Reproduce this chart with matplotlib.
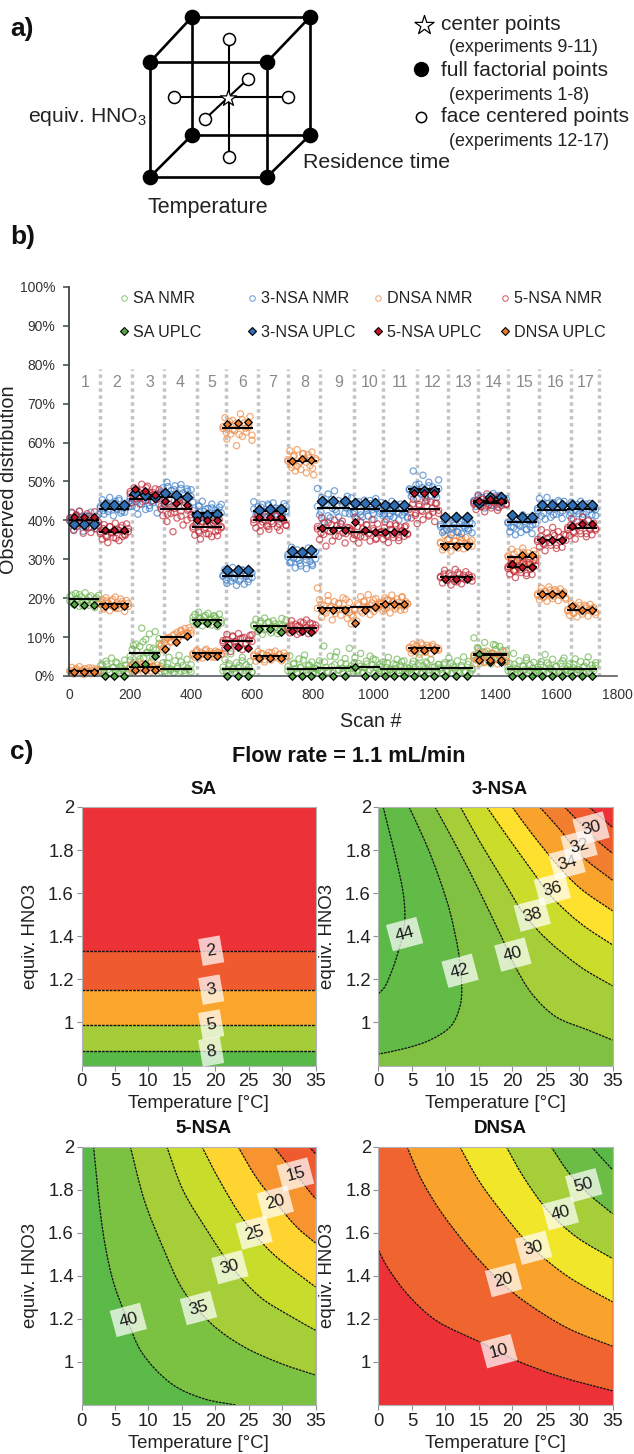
import matplotlib
matplotlib.use("Agg")
import matplotlib.pyplot as plt
from matplotlib.legend import Legend
from matplotlib.lines import Line2D
from matplotlib.patches import PathPatch
from matplotlib.path import Path
import numpy as np

plt.rcParams['font.family'] = ['Liberation Sans', 'DejaVu Sans']
plt.rcParams['mathtext.default'] = 'regular'

W, H = 634, 1454

# ---- panel a, design of experiments cube (picture pixels)
cube_front = [(150, 62), (267, 62), (267, 177), (150, 177)]
cube_back = [(192, 17), (310, 17), (310, 135), (192, 135)]
face_points = [(229, 39), (229, 157), (174, 97), (288, 97), (205, 119), (248, 79)]
center_point = (228, 98)

# ---- panel b
exp_labels = [str(i) for i in range(1, 18)]
exp_edges = [0, 100, 198, 299, 404, 503, 604, 716, 813, 924, 1023, 1115, 1217, 1327, 1439, 1536, 1635, 1733]
divider_scans = [102, 206, 312, 420, 516, 620, 719, 826, 935, 1030, 1143, 1246, 1342, 1443, 1545, 1648, 1740]
label_scans = [52, 155, 267, 365, 470, 569, 668, 776, 885, 987, 1089, 1194, 1296, 1395, 1497, 1599, 1697]

sa_mean = [19.7, 1.7, 6.0, 1.8, 14.3, 1.8, 12.8, 1.8, 2.0, 2.3, 1.8, 1.9, 2.0, 5.5, 1.9, 1.9, 1.8]
nsa3_mean = [40, 43, 45.5, 46, 42, 25.7, 42.5, 30.7, 43.2, 43, 42.5, 48, 38.5, 45, 39.5, 42.8, 43]
nsa5_mean = [40, 37, 46.5, 43, 38.3, 9, 40, 12.3, 38, 37, 37, 43, 25.5, 44.5, 28, 35, 38]
dnsa_mean = [1.2, 18.5, 2.2, 10, 5.8, 63.8, 5.2, 55.3, 17.5, 17.7, 18.5, 7.2, 34, 5.7, 30.5, 21, 17]

sa_uplc = [[18.5, 18.3, 18.3], [0, 0, 0], [2.8, 3.2, 5.1], [np.nan, np.nan, np.nan], [13.5, 13.7, 13.4], [0, 0, 0],
           [12, 12, 11.3], [0, 0, 0], [0, 0, 0], [2.3, 0, 0], [0, 0, 0], [0, 0, 0], [0, 0, 0],
           [5.7, 3.5, 3.5], [0, 0, 0], [0, 0, 0], [0, 0, 0]]
nsa3_uplc = [[39, 39, 39], [44, 44, 44], [47, 46.5, 46], [47, 46.5, 46], [41.5, 41.5, 41.7], [27.2, 27.2, 27.2],
             [42.8, 43, 43], [32.2, 32, 32.3], [45, 45, 45], [44.5, 44.5, 44.5], [44, 44, 44], [47.5, 47.5, 47.5],
             [41, 41, 41], [44.5, 46, 46], [41.5, 41, 41], [44, 44, 44], [44, 44, 44]]
nsa5_uplc = [[41, 41, 41], [37.5, 37.5, 37.5], [48, 47.5, 46.5], [45, 44.5, 44], [40, 40, 40], [7.5, 7.5, 7.2],
             [41, 41, 41], [11.5, 11.5, 11.3], [38, 37.5, 37.5], [39.5, 37.5, 37], [37, 37, 37], [47, 47, 47],
             [25, 25, 25], [45, 45.5, 45], [28.8, 28, 28], [35, 35, 35], [38.5, 39, 39]]
dnsa_uplc = [[1, 1, 1], [18, 18, 18], [1.5, 1.5, 1.5], [7, 8.7, 10.2], [5.2, 5.2, 5.2], [64.8, 65, 65.4],
             [4.5, 4.5, 4.5], [55.3, 55.7, 55.6], [17, 17, 17], [13.5, 17, 17.8], [18.5, 18.5, 18.5], [6.7, 6.7, 6.7],
             [33.5, 33.5, 33.5], [4, 4, 4], [28.8, 31.2, 31], [21, 21, 21], [18, 17, 17]]

sa_nmr = [
    [19.2, 20.8, 18.4, 21.2, 19.9, 17.9, 20.3, 18.9, 21.4, 19.5, 18.2, 20.6, 19.1, 17.6, 20.1, 18.7],
    [1.2, 2.9, 0.7, 3.8, 1.6, 0.9, 4.6, 2.1, 1.1, 3.3, 0.6, 2.4, 1.4, 4.1, 0.8, 1.8],
    [4.1, 6.8, 3.4, 8.2, 5.2, 7.6, 12.3, 4.6, 9.4, 6.1, 10.8, 3.8, 7.1, 11.4, 5.5, 9.6],
    [1.1, 3.4, 0.7, 2.2, 4.8, 1.5, 0.9, 3.9, 1.9, 5.3, 1.2, 2.7, 0.8, 4.3, 1.6, 2.9],
    [14.1, 15.8, 13.2, 16.4, 14.7, 12.9, 15.2, 13.8, 16.1, 14.4, 13.1, 15.5, 14.9, 12.7, 15.9, 13.6],
    [1.3, 4.2, 0.8, 2.6, 5.7, 1.7, 0.9, 3.4, 2.1, 1.1, 4.8, 0.7, 2.9, 1.5, 3.7, 0.9],
    [12.9, 14.6, 11.4, 13.5, 10.7, 14.9, 12.2, 13.9, 11.1, 14.2, 12.6, 10.9, 13.2, 14.8, 11.8, 12.4],
    [1.4, 5.2, 0.8, 3.1, 1.8, 0.7, 4.4, 2.3, 1.1, 5.4, 0.9, 2.7, 1.6, 3.6, 0.8, 2.0],
    [1.6, 3.9, 0.8, 7.7, 2.2, 1.1, 5.1, 0.7, 2.9, 6.2, 1.4, 3.3, 0.9, 4.5, 1.9, 7.1],
    [2.6, 0.9, 4.7, 1.5, 3.2, 5.8, 0.8, 2.1, 3.8, 1.2, 5.1, 2.8, 0.7, 4.1, 1.8, 3.0],
    [1.2, 3.6, 0.8, 2.2, 4.8, 1.5, 0.7, 3.1, 1.9, 4.3, 0.9, 2.6, 1.3, 3.9, 0.8, 2.1],
    [1.5, 0.8, 3.8, 2.2, 1.0, 4.7, 0.7, 2.7, 1.7, 3.3, 0.9, 4.2, 1.3, 2.4, 0.8, 3.0],
    [2.1, 0.8, 3.4, 1.3, 4.6, 0.7, 2.6, 1.6, 3.9, 0.9, 2.3, 4.9, 1.1, 3.0, 0.8, 1.9],
    [9.8, 4.2, 7.1, 3.3, 6.2, 8.6, 4.8, 5.6, 3.1, 8.1, 6.8, 4.4, 7.6, 3.7, 5.2, 6.5],
    [1.4, 3.2, 0.7, 5.8, 2.0, 1.0, 3.9, 0.8, 2.6, 1.6, 4.7, 0.9, 2.9, 1.2, 3.5, 0.8],
    [2.2, 0.8, 3.7, 1.3, 5.5, 0.7, 2.8, 1.7, 4.3, 0.9, 2.4, 1.1, 3.2, 0.8, 4.6, 1.5],
    [1.3, 3.1, 0.7, 2.1, 4.4, 0.9, 1.6, 3.7, 0.8, 2.5, 1.1, 4.9, 0.7, 2.8, 1.4, 3.4],
]
sa_nmr_extra = [
    [20.4, 18.9, 19.6, 20.9, 18.1, 19.3, 20.2, 18.6, 19.8, 20.7],
    [2.6, 1.5, 3.1, 1.0, 2.2, 3.6, 1.3, 1.9, 2.8, 0.9],
    [5.1, 7.9, 6.4, 4.4, 8.8, 5.9, 7.3, 4.9, 6.7, 8.4],
    [2.5, 1.3, 3.2, 1.8, 0.9, 2.4, 3.6, 1.4, 2.0, 1.1],
    [15.1, 13.6, 14.9, 14.2, 15.6, 13.4, 14.6, 15.3, 13.9, 14.3],
    [2.3, 1.2, 3.1, 1.9, 1.0, 2.7, 3.9, 1.4, 2.2, 1.1],
    [13.2, 12.1, 14.1, 11.9, 13.7, 12.7, 13.4, 11.6, 12.9, 14.4],
    [2.4, 1.3, 3.3, 1.0, 2.1, 4.1, 1.5, 2.8, 0.9, 1.9],
    [2.7, 1.3, 3.6, 1.0, 2.4, 4.9, 1.7, 2.0, 3.1, 1.2],
    [1.9, 3.4, 1.2, 2.5, 0.9, 3.1, 1.6, 4.4, 2.2, 1.4],
    [2.4, 1.1, 3.3, 1.7, 0.9, 2.8, 1.4, 3.7, 2.0, 1.0],
    [2.0, 3.1, 1.2, 2.6, 0.9, 3.6, 1.5, 2.2, 1.1, 2.9],
    [1.7, 2.9, 1.0, 3.3, 2.2, 1.3, 2.7, 0.9, 3.7, 1.5],
    [5.4, 7.3, 4.6, 6.1, 3.9, 5.8, 7.9, 4.1, 6.6, 5.0],
    [2.3, 1.1, 3.0, 1.7, 0.9, 2.5, 4.1, 1.4, 2.0, 1.2],
    [1.6, 2.9, 1.0, 3.4, 2.0, 1.3, 2.6, 0.9, 3.9, 1.8],
    [2.4, 1.2, 3.0, 1.7, 0.9, 2.2, 3.5, 1.1, 1.9, 2.7],
]
nsa3_nmr = [
    [39.8, 41.9, 37.6, 40.7, 38.4, 42.3, 39.1, 37.2, 41.2, 40.2, 38.1, 42.1, 39.5, 37.9, 40.9, 41.5],
    [43.2, 45.3, 41.6, 44.4, 42.3, 45.9, 43.7, 41.2, 44.9, 42.8, 45.6, 41.9, 43.9, 42.1, 44.1, 43.4],
    [45.8, 43.6, 46.6, 44.9, 41.6, 46.1, 44.2, 46.9, 42.8, 45.3, 43.1, 46.4, 44.6, 45.7, 41.9, 46.8],
    [46.5, 48.4, 44.1, 49.8, 45.6, 47.7, 43.8, 48.9, 46.1, 44.8, 49.2, 47.1, 45.2, 48.1, 43.6, 47.9],
    [44.7, 41.6, 39.4, 43.8, 40.7, 44.9, 42.3, 39.8, 43.1, 41.1, 44.2, 39.2, 42.7, 40.3, 43.4, 41.9],
    [25.6, 27.4, 23.8, 26.3, 24.4, 27.9, 25.1, 23.3, 26.8, 24.9, 27.1, 23.6, 25.9, 24.2, 26.6, 25.3],
    [44.8, 41.3, 43.5, 40.4, 44.1, 42.1, 40.9, 43.8, 41.7, 44.5, 42.6, 40.2, 43.1, 41.1, 44.3, 42.3],
    [31.2, 29.1, 33.1, 30.3, 27.8, 32.4, 29.7, 28.3, 31.8, 30.8, 27.6, 32.9, 29.4, 28.8, 31.5, 30.1],
    [48.2, 41.4, 45.9, 39.6, 44.3, 46.8, 40.7, 43.1, 47.6, 42.2, 45.1, 39.2, 44.7, 41.9, 46.2, 43.6],
    [45.8, 41.7, 43.9, 40.4, 44.8, 42.3, 40.9, 45.2, 43.1, 41.1, 44.3, 42.7, 40.2, 45.6, 43.6, 41.8],
    [44.6, 41.2, 42.9, 40.3, 43.8, 41.7, 44.9, 40.8, 43.2, 42.2, 40.1, 44.2, 41.4, 43.5, 42.6, 40.6],
    [48.1, 46.2, 52.7, 47.4, 45.6, 49.3, 46.8, 51.6, 47.9, 45.2, 49.8, 46.5, 48.6, 47.1, 45.9, 50.4],
    [38.9, 36.9, 40.2, 37.6, 39.5, 36.3, 38.2, 40.4, 37.1, 39.1, 36.6, 38.6, 40.1, 37.9, 39.7, 36.8],
    [45.1, 43.6, 46.6, 44.2, 45.8, 43.2, 46.2, 44.8, 43.9, 46.9, 45.4, 43.4, 46.4, 44.5, 45.6, 44.1],
    [39.3, 37.1, 41.2, 38.2, 36.3, 40.4, 38.8, 36.9, 41.4, 39.7, 37.6, 40.8, 38.4, 36.6, 40.1, 39.1],
    [43.1, 45.6, 41.1, 44.2, 40.3, 45.9, 42.6, 40.8, 44.6, 43.6, 41.6, 45.1, 42.1, 40.5, 44.9, 43.3],
    [43.3, 41.2, 44.7, 40.4, 42.6, 44.1, 41.7, 44.9, 40.8, 43.7, 42.2, 40.2, 44.4, 41.4, 43.1, 42.8],
]
nsa3_nmr_extra = [
    [40.4, 38.9, 41.4, 39.3, 40.9, 38.4, 41.1, 39.7, 40.1, 38.7],
    [43.6, 42.6, 44.6, 42.9, 44.2, 43.1, 45.1, 42.4, 43.8, 44.7],
    [44.4, 45.4, 43.3, 46.2, 44.8, 45.9, 43.8, 45.1, 46.5, 44.1],
    [47.3, 45.9, 48.7, 46.7, 47.9, 45.4, 48.2, 46.4, 47.5, 46.1],
    [42.6, 40.9, 43.6, 41.4, 42.9, 40.6, 43.2, 41.8, 42.2, 44.1],
    [25.9, 24.7, 26.9, 25.3, 26.2, 24.4, 27.3, 25.6, 24.9, 26.5],
    [42.9, 41.6, 43.4, 42.2, 44.2, 41.4, 43.2, 42.5, 41.9, 43.7],
    [30.6, 29.3, 31.6, 30.2, 28.9, 31.2, 29.9, 30.9, 28.4, 31.9],
    [43.6, 42.1, 44.8, 41.2, 45.4, 42.8, 40.9, 44.1, 43.2, 41.7],
    [43.4, 42.1, 44.4, 41.4, 43.8, 42.6, 45.1, 41.8, 43.1, 42.4],
    [42.7, 41.6, 43.6, 41.1, 42.4, 44.1, 41.9, 43.2, 42.1, 40.9],
    [47.8, 46.8, 49.1, 47.2, 48.4, 46.3, 48.9, 47.6, 46.6, 48.2],
    [38.4, 37.3, 39.3, 37.8, 38.8, 36.9, 39.6, 38.1, 37.4, 39.1],
    [44.9, 44.2, 45.9, 44.6, 45.3, 43.8, 46.3, 44.4, 45.1, 45.6],
    [39.6, 38.3, 40.6, 39.1, 38.6, 40.2, 37.8, 39.9, 38.9, 40.9],
    [42.6, 43.8, 41.9, 44.3, 42.9, 41.4, 43.3, 44.7, 42.4, 43.6],
    [42.9, 41.9, 43.9, 42.4, 43.4, 41.6, 44.2, 42.7, 43.1, 41.2],
]
nsa5_nmr = [
    [39.9, 42.1, 37.4, 41.1, 38.6, 42.4, 39.3, 36.7, 40.6, 41.7, 38.1, 36.9, 40.2, 42.2, 37.8, 39.6],
    [37.1, 35.2, 38.9, 36.1, 34.3, 38.4, 36.8, 35.6, 39.3, 37.6, 34.8, 38.1, 35.9, 36.4, 39.1, 37.9],
    [46.8, 44.6, 48.4, 45.6, 47.6, 44.2, 49.3, 46.2, 45.1, 48.8, 47.1, 44.9, 46.5, 48.1, 45.4, 47.9],
    [43.6, 41.2, 45.4, 39.7, 44.2, 41.8, 37.1, 43.1, 40.6, 45.8, 42.4, 38.8, 44.6, 40.1, 42.9, 41.5],
    [38.4, 36.2, 40.6, 37.3, 35.2, 39.8, 37.7, 36.6, 40.9, 38.9, 35.8, 39.3, 37.1, 36.1, 40.2, 38.1],
    [9.1, 7.2, 10.7, 8.1, 6.3, 10.1, 8.7, 7.6, 10.9, 9.6, 6.8, 9.9, 8.4, 7.1, 10.4, 8.9],
    [40.2, 38.1, 41.4, 37.2, 39.6, 41.1, 38.6, 37.7, 40.8, 39.2, 41.3, 38.3, 37.4, 40.5, 39.9, 38.8],
    [12.6, 11.1, 14.2, 11.8, 13.3, 10.7, 12.9, 13.9, 11.4, 12.2, 14.4, 10.9, 13.6, 12.4, 11.6, 13.1],
    [37.8, 35.1, 40.6, 36.4, 33.4, 39.4, 37.1, 34.7, 40.1, 38.6, 35.9, 39.1, 36.8, 34.2, 38.2, 37.4],
    [37.2, 35.3, 40.8, 36.1, 34.2, 39.6, 37.8, 35.7, 38.9, 36.6, 34.7, 40.2, 37.4, 35.1, 39.1, 36.9],
    [37.1, 35.2, 39.6, 36.2, 34.3, 38.9, 37.6, 35.6, 39.1, 36.7, 34.8, 38.3, 37.3, 35.9, 38.6, 36.4],
    [43.2, 40.6, 45.4, 41.3, 39.2, 44.1, 42.6, 40.2, 45.8, 43.7, 41.1, 44.7, 42.1, 39.7, 44.4, 41.8],
    [25.6, 23.9, 27.2, 24.6, 26.4, 23.4, 25.1, 27.4, 24.2, 26.1, 23.7, 25.9, 26.8, 24.9, 25.3, 24.4],
    [44.6, 42.8, 46.3, 43.6, 45.4, 42.2, 46.8, 44.1, 43.2, 45.9, 44.9, 42.6, 46.1, 43.9, 45.1, 44.3],
    [28.1, 26.2, 30.1, 27.1, 25.3, 29.6, 27.8, 26.6, 30.4, 28.6, 25.8, 29.1, 27.4, 26.1, 29.8, 28.3],
    [35.1, 33.2, 37.6, 34.1, 32.2, 36.8, 35.6, 33.6, 38.2, 36.1, 32.8, 37.1, 34.6, 33.1, 36.4, 34.9],
    [38.2, 36.1, 40.4, 37.1, 35.2, 39.6, 38.6, 36.6, 40.9, 39.1, 35.8, 39.9, 37.6, 36.3, 39.3, 37.9],
]
nsa5_nmr_extra = [
    [40.7, 38.9, 41.4, 39.1, 40.4, 38.3, 41.1, 39.7, 40.1, 38.6],
    [36.6, 37.9, 35.7, 38.4, 36.9, 35.4, 37.4, 38.7, 36.2, 37.1],
    [47.4, 46.1, 47.9, 45.8, 46.9, 48.4, 46.4, 47.2, 45.5, 46.7],
    [42.9, 44.1, 41.6, 43.4, 42.1, 44.7, 41.1, 43.9, 42.6, 40.7],
    [37.9, 39.1, 36.9, 39.6, 38.2, 36.5, 38.7, 39.9, 37.4, 38.4],
    [8.6, 9.4, 7.9, 10.3, 8.9, 7.4, 9.7, 8.2, 9.2, 10.6],
    [39.4, 40.7, 38.9, 40.1, 38.4, 39.8, 41.1, 39.1, 40.4, 38.7],
    [12.1, 13.1, 11.6, 12.8, 11.2, 13.7, 12.5, 11.9, 13.4, 12.3],
    [38.4, 36.8, 39.3, 37.3, 38.9, 36.1, 37.8, 39.8, 36.6, 38.1],
    [37.6, 36.3, 38.4, 35.9, 37.1, 38.8, 36.7, 37.9, 35.4, 36.9],
    [36.9, 38.1, 35.9, 37.7, 36.4, 38.6, 35.6, 37.3, 38.3, 36.6],
    [42.8, 44.2, 41.8, 43.6, 42.3, 44.8, 41.4, 43.1, 44.4, 42.6],
    [25.3, 26.2, 24.7, 25.8, 24.3, 26.6, 25.1, 24.8, 26.0, 25.5],
    [44.2, 45.2, 43.5, 44.8, 43.8, 45.6, 44.5, 43.3, 45.3, 44.0],
    [27.6, 28.9, 26.9, 28.3, 27.3, 29.3, 26.4, 28.7, 27.9, 29.7],
    [34.6, 35.9, 33.9, 35.3, 34.3, 36.6, 33.6, 35.6, 34.9, 36.2],
    [37.7, 38.8, 36.9, 38.4, 37.3, 39.4, 36.6, 38.0, 39.0, 37.5],
]
dnsa_nmr = [
    [1.1, 2.2, 0.5, 1.6, 0.8, 2.4, 1.3, 0.4, 1.9, 0.9, 2.1, 0.6, 1.4, 0.7, 1.8, 1.2],
    [18.4, 19.6, 17.2, 20.1, 18.8, 16.8, 19.2, 17.8, 20.3, 18.1, 17.4, 19.8, 18.6, 16.6, 19.4, 17.9],
    [2.1, 3.1, 1.1, 2.6, 1.6, 3.4, 2.3, 0.9, 2.9, 1.8, 3.2, 1.2, 2.4, 1.4, 2.8, 2.0],
    [8.1, 6.8, 9.4, 7.4, 9.9, 8.7, 10.4, 9.1, 11.2, 10.1, 11.8, 10.7, 12.2, 11.1, 12.4, 10.9],
    [5.8, 4.8, 6.6, 5.2, 6.1, 4.6, 5.6, 6.9, 5.1, 6.3, 4.9, 5.9, 6.4, 5.4, 6.0, 5.5],
    [63.6, 66.4, 60.9, 64.7, 62.2, 65.7, 63.1, 59.2, 64.2, 67.4, 61.6, 65.1, 62.7, 63.9, 66.7, 60.6],
    [5.1, 3.8, 6.3, 4.4, 5.7, 3.6, 5.3, 6.1, 4.1, 4.8, 6.4, 4.6, 5.6, 3.9, 5.9, 5.0],
    [55.2, 57.9, 53.6, 56.4, 52.7, 58.2, 54.7, 53.1, 57.1, 55.8, 52.2, 56.9, 54.1, 57.6, 51.7, 55.5],
    [22.6, 19.6, 15.1, 18.1, 16.2, 20.7, 17.6, 14.4, 19.1, 16.9, 18.6, 15.6, 20.1, 17.2, 14.8, 18.9],
    [13.4, 15.2, 16.9, 14.1, 18.2, 20.4, 16.2, 19.3, 17.4, 20.9, 15.8, 18.8, 16.6, 19.9, 17.9, 18.4],
    [18.4, 16.6, 20.1, 17.6, 19.4, 16.2, 20.8, 18.9, 17.2, 19.8, 18.1, 16.9, 20.4, 17.9, 19.1, 18.6],
    [7.1, 5.9, 8.2, 6.4, 7.7, 5.6, 8.5, 6.9, 6.2, 7.9, 7.4, 5.8, 8.1, 6.7, 7.3, 6.6],
    [34.1, 32.4, 36.2, 33.2, 35.3, 32.1, 36.9, 34.6, 33.6, 35.8, 34.9, 32.7, 35.6, 33.9, 34.4, 33.4],
    [4.6, 3.2, 6.1, 3.9, 5.4, 3.4, 6.4, 4.9, 3.6, 5.8, 4.2, 3.1, 5.1, 4.4, 6.2, 3.8],
    [30.6, 28.4, 32.6, 29.4, 27.3, 31.9, 30.1, 28.9, 32.9, 31.1, 27.9, 31.6, 29.9, 28.1, 32.2, 30.4],
    [21.1, 19.6, 22.6, 20.3, 21.8, 19.2, 22.9, 20.9, 19.9, 22.2, 21.4, 19.4, 22.4, 20.6, 21.6, 20.1],
    [17.1, 15.6, 18.6, 16.2, 17.8, 15.2, 18.9, 16.9, 15.9, 18.2, 17.4, 15.4, 18.4, 16.6, 17.6, 16.4],
]
dnsa_nmr_extra = [
    [1.4, 0.8, 1.9, 1.0, 1.6, 0.6, 1.2, 2.0, 0.9, 1.5],
    [18.9, 17.7, 19.3, 18.2, 19.7, 17.4, 18.5, 19.1, 17.9, 18.7],
    [2.4, 1.7, 2.8, 2.0, 3.0, 1.4, 2.2, 2.6, 1.5, 1.9],
    [7.7, 8.6, 9.7, 8.9, 10.7, 9.5, 11.5, 10.4, 11.0, 11.7],
    [5.4, 6.2, 5.0, 5.8, 6.5, 5.3, 5.7, 4.8, 6.1, 5.6],
    [64.1, 62.6, 65.4, 63.3, 64.9, 62.1, 65.9, 63.7, 64.5, 61.9],
    [5.4, 4.7, 5.8, 4.2, 5.2, 6.0, 4.9, 5.5, 4.4, 5.1],
    [55.6, 54.4, 56.7, 53.9, 55.1, 57.2, 54.9, 56.1, 53.4, 55.9],
    [17.4, 18.4, 16.6, 19.4, 17.9, 16.1, 18.7, 17.1, 19.7, 16.4],
    [15.6, 17.1, 18.6, 16.7, 19.1, 17.7, 18.1, 19.6, 17.3, 18.9],
    [18.7, 17.4, 19.6, 18.2, 19.2, 17.7, 18.9, 20.2, 17.1, 18.5],
    [7.4, 6.5, 7.8, 6.9, 8.0, 6.1, 7.2, 7.6, 6.6, 7.0],
    [34.4, 33.1, 35.1, 33.7, 34.7, 32.9, 35.5, 34.2, 33.5, 34.9],
    [5.1, 4.1, 5.6, 3.7, 4.7, 5.9, 4.3, 5.3, 3.5, 4.8],
    [30.9, 29.6, 31.4, 29.1, 30.3, 31.8, 28.7, 30.7, 29.3, 31.3],
    [20.7, 21.6, 20.2, 21.2, 22.1, 20.5, 21.9, 20.8, 21.3, 19.7],
    [16.7, 17.6, 16.1, 17.2, 18.1, 16.5, 17.9, 16.9, 17.4, 15.8],
]

GREEN, BLUE, ORANGE, RED = '#6fb553', '#3f7fc8', '#ee8a45', '#c22a36'
DGREEN, DBLUE, DORANGE, DRED = '#55a845', '#2f6fb5', '#ec7a2c', '#c0152a'

# ---- panel c, contour lines read as (temperature, equiv) points
sa_levels = {2: 1.333, 3: 1.152, 5: 0.99, 8: 0.865}
sa_colors = ['#ed3237', '#ef5a2e', '#faa62c', '#a4cd39', '#58b947']

nsa3_curves = {
    44: [(0.7, 2), (1.5, 1.9), (2.55, 1.77), (3.65, 1.61), (3.95, 1.5), (3.7, 1.42), (3.16, 1.35), (2.25, 1.26), (1.03, 1.17), (0, 1.134)],
    42: [(4.56, 2), (7.1, 1.83), (9.2, 1.66), (10.75, 1.506), (12, 1.32), (12.45, 1.165), (12.15, 1.07), (10.75, 0.98), (7.7, 0.918), (4.07, 0.88), (0, 0.853)],
    40: [(8.45, 2), (11.97, 1.8), (15, 1.615), (18.35, 1.4), (20.2, 1.274), (22.9, 1.135), (26.55, 1.026), (31.4, 0.964), (35, 0.918)],
    38: [(12.27, 2), (15, 1.847), (18.65, 1.66), (21.7, 1.506), (25.3, 1.382), (30.2, 1.258), (35, 1.17)],
    36: [(16.2, 2), (19.3, 1.862), (22.9, 1.707), (25.9, 1.583), (30.2, 1.46), (35, 1.36)],
    34: [(20, 2), (22.9, 1.878), (26.55, 1.738), (30.2, 1.622), (35, 1.518)],
    32: [(24.1, 2), (27.2, 1.893), (30.2, 1.777), (35, 1.66)],
    30: [(27.8, 2), (30.2, 1.924), (32.6, 1.847), (35, 1.785)],
    28: [(31.5, 2), (35, 1.905)],
}
nsa3_colors = {44: '#5ab947', 42: '#62bb46', 40: '#a5ce39', 38: '#cbdc2a', 36: '#fee12e', 34: '#f9a22c', 32: '#f27f2f', 30: '#ef5a2f', 28: '#ed3237'}
nsa3_base = '#80c142'
nsa3_labels = {44: (3.9, 1.41), 42: (12.2, 1.24), 40: (20.1, 1.315), 38: (23, 1.5), 36: (26, 1.62), 34: (28.2, 1.74), 32: (30, 1.82), 30: (31.8, 1.9)}

nsa5_curves = {
    40: [(1.8, 2), (3.04, 1.64), (4.56, 1.395), (6.68, 1.21), (9.1, 1.04), (13.4, 0.9), (18.2, 0.83), (23.1, 0.8)],
    35: [(7.3, 2), (9.4, 1.75), (12.15, 1.534), (15.2, 1.333), (19.4, 1.178), (24.3, 1.07), (29.8, 0.993), (35, 0.939)],
    30: [(12.76, 2), (15.2, 1.796), (18.8, 1.61), (22.5, 1.44), (26.7, 1.302), (31, 1.217), (35, 1.147)],
    25: [(18, 2), (20.66, 1.842), (24.3, 1.657), (28.6, 1.503), (35, 1.348)],
    20: [(23.4, 2), (26.1, 1.858), (29.2, 1.734), (32.2, 1.626), (35, 1.552)],
    15: [(28.7, 2), (30.4, 1.935), (32.8, 1.842), (35, 1.757)],
    10: [(34, 2), (35, 1.966)],
}
nsa5_colors = {35: '#a5ce39', 30: '#c8dc2b', 25: '#fed530', 20: '#f7942f', 15: '#ef5a2f', 10: '#ed3237'}
nsa5_base, nsa5_left = '#7cc242', '#5ab947'
nsa5_labels = {40: (7, 1.195), 35: (17.5, 1.25), 30: (22.2, 1.44), 25: (25.8, 1.6), 20: (29, 1.74), 15: (32, 1.87)}

dnsa_curves = {
    10: [(0, 1.518), (1.64, 1.425), (4.68, 1.302), (8.93, 1.186), (15.6, 1.086), (20.5, 1.008), (27.2, 0.931), (35, 0.866)],
    20: [(4.25, 2), (6.5, 1.842), (9.54, 1.688), (13.8, 1.518), (18, 1.379), (22.3, 1.271), (28.4, 1.155), (35, 1.073)],
    30: [(12.15, 2), (15, 1.842), (18.65, 1.688), (22.9, 1.534), (28.4, 1.395), (35, 1.279)],
    40: [(19.1, 2), (21.7, 1.858), (25.3, 1.703), (29.6, 1.58), (35, 1.48)],
    50: [(25.8, 2), (28.4, 1.881), (31.4, 1.781), (35, 1.688)],
    60: [(31.8, 2), (35, 1.892)],
}
dnsa_colors = {10: '#f0642f', 20: '#f9a22c', 30: '#f2e62b', 40: '#a5ce39', 50: '#6cbd45', 60: '#58b947'}
dnsa_base = '#ed3237'
dnsa_labels = {10: (18, 1.05), 20: (18.7, 1.38), 30: (23.2, 1.53), 40: (27.2, 1.69), 50: (30.7, 1.82)}

temp_ticks = [0, 5, 10, 15, 20, 25, 30, 35]
equiv_ticks = [1, 1.2, 1.4, 1.6, 1.8, 2]
equiv_ticklabels = ['1', '1.2', '1.4', '1.6', '1.8', '2']


def px_axes(left, top, right, bottom, **kw):
    return fig.add_axes([left / W, 1 - bottom / H, (right - left) / W, (bottom - top) / H], **kw)


fig = plt.figure(figsize=(W / 100, H / 100), dpi=100)

# overlay for the cube and the free text
ov = px_axes(0, 0, W, H)
ov.set_xlim(0, W)
ov.set_ylim(H, 0)
ov.axis('off')
ov.set_zorder(5)

for sq in (cube_front, cube_back):
    xs, ys = zip(*(sq + sq[:1]))
    ov.plot(xs, ys, color='k', lw=1.9, zorder=2)
for f, b in zip(cube_front, cube_back):
    ov.plot([f[0], b[0]], [f[1], b[1]], color='k', lw=1.9, zorder=2)
for j in (0, 2, 4):
    ov.plot([face_points[j][0], face_points[j + 1][0]], [face_points[j][1], face_points[j + 1][1]], color='k', lw=1.5, zorder=2)
ov.scatter(*zip(*(cube_front + cube_back)), s=105, color='k', zorder=3)
ov.scatter(*zip(*face_points), s=75, facecolor='w', edgecolor='k', linewidth=1.1, zorder=3)
ov.scatter(*center_point, s=150, marker='*', facecolor='w', edgecolor='k', linewidth=0.9, zorder=4)

# legend of the cube
ov.scatter([424], [25], s=210, marker='*', facecolor='w', edgecolor='k', linewidth=0.9)
ov.scatter([421], [69], s=100, color='k')
ov.scatter([421], [117], s=55, facecolor='w', edgecolor='k', linewidth=1.1)
for y, s in [(24, 'center points'), (71, 'full factorial points'), (117, 'face centered points')]:
    ov.text(441, y, s, fontsize=15, va='center', color='#222222')
for y, s in [(48, '(experiments 9-11)'), (95, '(experiments 1-8)'), (141, '(experiments 12-17)')]:
    ov.text(449, y, s, fontsize=12.9, va='center', color='#222222')
ov.text(28, 117, 'equiv. HNO$_3$', fontsize=15.2, va='center', color='#222222')
ov.text(303, 163, 'Residence time', fontsize=15.4, va='center', color='#222222')
ov.text(148, 207, 'Temperature', fontsize=15.5, va='center', color='#222222')

for y, s in [(29, 'a)'), (237, 'b)'), (752, 'c)')]:
    ov.text(10, y, s, fontsize=19, fontweight='bold', va='center', color='#111111')
ov.text(349, 757, 'Flow rate = 1.1 mL/min', fontsize=15.6, fontweight='bold', ha='center', va='center', color='#111111')

# ---- panel b
ax = px_axes(69, 287, 617, 676)
ax.set_xlim(0, 1800)
ax.set_ylim(0, 100)
for s in ('top', 'right'):
    ax.spines[s].set_visible(False)
ax.spines['left'].set_color('#3c4649')
ax.spines['left'].set_linewidth(1.3)
ax.spines['bottom'].set_color('#555f62')
ax.spines['bottom'].set_linewidth(1.2)
ax.set_xticks(range(0, 1801, 200))
ax.set_yticks(range(0, 101, 10))
ax.set_yticklabels([f'{v}%' for v in range(0, 101, 10)])
ax.tick_params(axis='x', length=0, labelsize=10, pad=9, labelcolor='#333333')
ax.tick_params(axis='y', length=4, width=1.1, color='#3c4649', labelsize=10, pad=6, labelcolor='#333333')
ax.set_xlabel('Scan #', fontsize=14.2, color='#222222')
ax.set_ylabel('Observed distribution', fontsize=14.3, color='#222222')
ax.xaxis.set_label_coords((371 - 69) / 548, -0.092)
ax.yaxis.set_label_coords((18 - 69) / 548, 0.504)

for d in divider_scans:
    ax.plot([d, d], [0, 79], color='#c4c4c4', lw=2.5, ls=(0, (1, 1)), zorder=1)
for lab, x in zip(exp_labels, label_scans):
    ax.text(x, 75.4, lab, fontsize=11.5, color='#8a8a8a', ha='center', va='center')

species = [
    (sa_nmr, sa_nmr_extra, sa_mean, sa_uplc, GREEN, DGREEN, 15),
    (dnsa_nmr, dnsa_nmr_extra, dnsa_mean, dnsa_uplc, ORANGE, DORANGE, 15),
    (nsa3_nmr, nsa3_nmr_extra, nsa3_mean, nsa3_uplc, BLUE, DBLUE, 28),
    (nsa5_nmr, nsa5_nmr_extra, nsa5_mean, nsa5_uplc, RED, DRED, 15),
]
for nmr, extra, mean, uplc, col, dcol, dsize in species:
    for i in range(17):
        for vals in (nmr[i], extra[i]):
            xs = np.linspace(exp_edges[i] + 3, exp_edges[i + 1] - 3, len(vals))
            ax.scatter(xs, vals, s=20, facecolor='none', edgecolor=col, linewidth=0.9, alpha=0.7, zorder=2, clip_on=False)
for nmr, extra, mean, uplc, col, dcol, dsize in species:
    for i in range(17):
        ax.plot([exp_edges[i], exp_edges[i + 1]], [mean[i], mean[i]], color='k', lw=1.5, zorder=3, solid_capstyle='butt')
for nmr, extra, mean, uplc, col, dcol, dsize in species:
    for i in range(17):
        span = exp_edges[i + 1] - exp_edges[i]
        xs = [exp_edges[i] + span * f for f in (0.17, 0.5, 0.83)]
        ax.scatter(xs, uplc[i], s=dsize, marker='D', facecolor=dcol, edgecolor='k', linewidth=0.9, zorder=4, clip_on=False)


def nmr_handle(c, lab):
    return Line2D([], [], ls='', marker='o', ms=4, mfc='none', mec=c, mew=0.8, alpha=0.7, label=lab)


def uplc_handle(c, lab):
    return Line2D([], [], ls='', marker='D', ms=4.2, mfc=c, mec='k', mew=0.8, label=lab)


legend_cols = [
    (114, [nmr_handle(GREEN, 'SA NMR'), uplc_handle(DGREEN, 'SA UPLC')]),
    (242, [nmr_handle(BLUE, '3-NSA NMR'), uplc_handle(DBLUE, '3-NSA UPLC')]),
    (368, [nmr_handle(ORANGE, 'DNSA NMR'), uplc_handle(DRED, '5-NSA UPLC')]),
    (495, [nmr_handle(RED, '5-NSA NMR'), uplc_handle(DORANGE, 'DNSA UPLC')]),
]
for xpx, handles in legend_cols:
    leg = Legend(ax, handles, [h.get_label() for h in handles], loc='center left',
                 bbox_to_anchor=((xpx - 69) / 548, (676 - 315.5) / 389), frameon=False, fontsize=11.6,
                 labelspacing=1.15, handletextpad=0.0, handlelength=1.2, borderpad=0, borderaxespad=0,
                 labelcolor='#222222')
    ax.add_artist(leg)


# ---- panel c
def contour_axes(left, top, title):
    a = px_axes(left, top, left + 234, top + 258.5)
    a.set_xlim(0, 35)
    a.set_ylim(0.8, 2)
    a.set_xticks(temp_ticks)
    a.set_yticks(equiv_ticks)
    a.set_yticklabels(equiv_ticklabels)
    a.tick_params(length=3.5, width=0.8, color='#8a9096', labelsize=13.3, pad=2, labelcolor='#222222')
    for s in a.spines.values():
        s.set_color('#b0b4b8')
        s.set_linewidth(0.8)
    a.set_xlabel('Temperature [°C]', fontsize=13.4, color='#222222')
    a.set_ylabel('equiv. HNO3', fontsize=13.4, color='#222222')
    a.xaxis.set_label_coords(0.5, -0.115)
    a.yaxis.set_label_coords(-0.183, 0.5)
    a.set_title(title, fontsize=13.5, fontweight='bold', pad=9.5, color='#111111', x=0.52)
    return a


def smooth_path(pts, corners=()):
    # bezier segments through the read points, corners are joined straight and closed
    p = np.array(pts, dtype=float)
    verts, codes = [p[0]], [Path.MOVETO]
    for i in range(len(p) - 1):
        p0, p1, p2, p3 = p[max(i - 1, 0)], p[i], p[i + 1], p[min(i + 2, len(p) - 1)]
        verts += [p1 + (p2 - p0) / 6, p2 - (p3 - p1) / 6, p2]
        codes += [Path.CURVE4] * 3
    for c in corners:
        verts.append(c)
        codes.append(Path.LINETO)
    if corners:
        verts.append(p[0])
        codes.append(Path.CLOSEPOLY)
    return Path(verts, codes)


def fill_region(a, pts, corners, color):
    a.add_patch(PathPatch(smooth_path(pts, corners), facecolor=color, edgecolor=color, lw=0.2, zorder=1))


def draw_line(a, pts):
    a.add_patch(PathPatch(smooth_path(pts), facecolor='none', edgecolor='#111111', lw=0.9, ls=(0, (2, 0.8)), zorder=2))


def upper_right(pts):
    extra = [(35, 2)]
    if pts[0][0] == 0:
        extra.append((0, 2))
    return extra


def contour_label(a, x, y, s, rot=15):
    a.text(x, y, s, fontsize=12.5, rotation=rot, ha='center', va='center', color='#1a1a1a', zorder=4,
           bbox=dict(boxstyle='square,pad=0.35', fc='white', ec='none', alpha=0.72))


# SA
a = contour_axes(81.5, 807, 'SA')
bounds = [2] + list(sa_levels.values()) + [0.8]
for j, c in enumerate(sa_colors):
    a.axhspan(bounds[j + 1], bounds[j], color=c, lw=0, zorder=1)
for lev, y in sa_levels.items():
    a.plot([0, 35], [y, y], color='#111111', lw=1.0, ls=(0, (2, 0.8)), zorder=2)
    contour_label(a, 19.4, y, str(lev), rot=10)

# 3-NSA
a = contour_axes(378.5, 807, '3-NSA')
a.set_facecolor(nsa3_base)
fill_region(a, nsa3_curves[42], [(0, 2)], nsa3_colors[42])
fill_region(a, nsa3_curves[44], [(0, 2)], nsa3_colors[44])
for lev in (40, 38, 36, 34, 32, 30, 28):
    fill_region(a, nsa3_curves[lev], upper_right(nsa3_curves[lev]), nsa3_colors[lev])
for lev, pts in nsa3_curves.items():
    draw_line(a, pts)
for lev, (x, y) in nsa3_labels.items():
    contour_label(a, x, y, str(lev))

# 5-NSA
a = contour_axes(81.5, 1146.5, '5-NSA')
a.set_facecolor(nsa5_base)
fill_region(a, nsa5_curves[40], [(0, 0.8), (0, 2)], nsa5_left)
for lev in (35, 30, 25, 20, 15, 10):
    fill_region(a, nsa5_curves[lev], upper_right(nsa5_curves[lev]), nsa5_colors[lev])
for lev, pts in nsa5_curves.items():
    draw_line(a, pts)
for lev, (x, y) in nsa5_labels.items():
    contour_label(a, x, y, str(lev))

# DNSA
a = contour_axes(378.5, 1146.5, 'DNSA')
a.set_facecolor(dnsa_base)
for lev in (10, 20, 30, 40, 50, 60):
    fill_region(a, dnsa_curves[lev], upper_right(dnsa_curves[lev]), dnsa_colors[lev])
for lev, pts in dnsa_curves.items():
    draw_line(a, pts)
for lev, (x, y) in dnsa_labels.items():
    contour_label(a, x, y, str(lev))

fig.savefig('out.png', dpi=100)
